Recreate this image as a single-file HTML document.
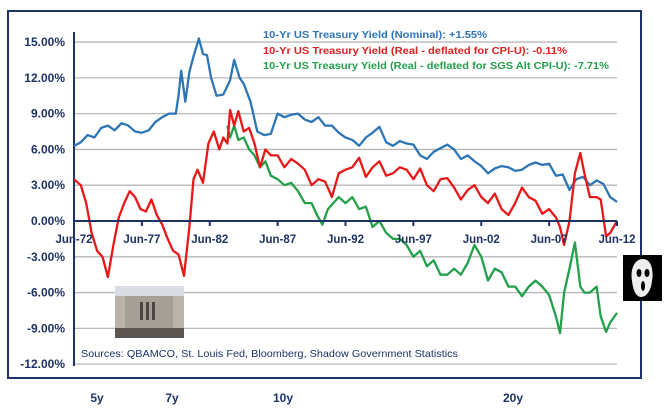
<!DOCTYPE html>
<html><head><meta charset="utf-8"><style>
body{margin:0;background:#fff;width:670px;height:411px;overflow:hidden}
svg{display:block;font-family:"Liberation Sans",sans-serif}
</style></head><body>
<svg width="670" height="411">
<rect x="8" y="11" width="633" height="367" fill="#fff" stroke="#1f3268" stroke-width="2"/>
<g id="grid"></g>
<g id="ylabels" font-size="12" font-weight="bold" fill="#1f3268" text-anchor="end"></g>
<line x1="74" y1="32" x2="74" y2="366" stroke="#1f3268" stroke-width="2"/>
<g id="series"></g>
<line x1="74" y1="221" x2="617" y2="221" stroke="#1f3268" stroke-width="2"/>
<g id="xlabels" font-size="11.5" font-weight="bold" fill="#1f3268" text-anchor="middle"></g>
<g font-size="10.5" font-weight="bold">
<text x="263" y="38" fill="#2e75b6" textLength="224" lengthAdjust="spacingAndGlyphs">10-Yr US Treasury Yield (Nominal): +1.55%</text>
<text x="263" y="54" fill="#e02020" textLength="304" lengthAdjust="spacingAndGlyphs">10-Yr US Treasury Yield (Real - deflated for CPI-U): -0.11%</text>
<text x="263" y="69" fill="#22a04a" textLength="346" lengthAdjust="spacingAndGlyphs">10-Yr US Treasury Yield (Real - deflated for SGS Alt CPI-U): -7.71%</text>
</g>
<g>
<rect x="115" y="286" width="69" height="52" fill="#b9b3ab"/>
<rect x="115" y="286" width="69" height="10" fill="#d9dde3"/>
<rect x="125" y="296" width="48" height="32" fill="#a69f95"/>
<rect x="140" y="302" width="3" height="18" fill="#4a4540"/><rect x="146" y="302" width="3" height="18" fill="#4a4540"/><rect x="152" y="302" width="3" height="18" fill="#4a4540"/>
<rect x="115" y="328" width="69" height="10" fill="#5a5550"/>
</g>
<text x="81" y="357" font-size="10.5" fill="#1f3268" textLength="377" lengthAdjust="spacingAndGlyphs">Sources: QBAMCO, St. Louis Fed, Bloomberg, Shadow Government Statistics</text>
<g>
<rect x="623" y="255" width="39" height="46" fill="#000"/>
<path d="M643 259 C634 259 630 270 632 281 C633 290 636 297 641 297 C647 297 651 290 652 281 C654 270 651 259 643 259Z" fill="#eee"/>
<ellipse cx="639" cy="273" rx="2.5" ry="4" fill="#000"/><ellipse cx="647" cy="273" rx="2.5" ry="4" fill="#000"/><ellipse cx="643" cy="286" rx="2" ry="5" fill="#000"/>
</g>
<g font-size="12" font-weight="bold" fill="#1f3268" text-anchor="middle">
<text x="97" y="402">5y</text><text x="172" y="402">7y</text><text x="283" y="402">10y</text><text x="513" y="402">20y</text>
</g>
</svg>
<script>
const yTicks=[15,12,9,6,3,0,-3,-6,-9,-12];
const yTickLabels=["15.00%","12.00%","9.00%","6.00%","3.00%","0.00%","-3.00%","-6.00%","-9.00%","-12.00%"];
const xTicks=[1972.5,1977.5,1982.5,1987.5,1992.5,1997.5,2002.5,2007.5,2012.5];
const xTickLabels=["Jun-72","Jun-77","Jun-82","Jun-87","Jun-92","Jun-97","Jun-02","Jun-07","Jun-12"];
const nomYears=[1972.5,1973,1973.5,1974,1974.5,1975,1975.5,1976,1976.5,1977,1977.5,1978,1978.5,1979,1979.5,1980,1980.2,1980.4,1980.7,1981,1981.3,1981.7,1982,1982.3,1982.6,1983,1983.5,1984,1984.3,1984.7,1985,1985.5,1986,1986.5,1987,1987.5,1988,1988.5,1989,1989.5,1990,1990.5,1991,1991.5,1992,1992.5,1993,1993.5,1994,1994.5,1995,1995.5,1996,1996.5,1997,1997.5,1998,1998.5,1999,1999.5,2000,2000.5,2001,2001.5,2002,2002.5,2003,2003.5,2004,2004.5,2005,2005.5,2006,2006.5,2007,2007.5,2008,2008.5,2009,2009.5,2010,2010.5,2011,2011.5,2012,2012.5];
const nomValues=[6.3,6.6,7.2,7.0,7.8,8.0,7.6,8.2,8.0,7.5,7.4,7.6,8.3,8.7,9.0,9.0,10.5,12.6,10.0,12.5,13.8,15.3,14.0,13.9,12.0,10.5,10.6,11.8,13.5,12.0,11.5,10.0,7.5,7.2,7.3,9.0,8.7,8.9,9.0,8.5,8.3,8.7,8.0,8.0,7.4,7.0,6.8,6.3,7.0,7.4,7.9,6.6,6.3,6.7,6.5,6.4,5.5,5.2,5.8,6.1,6.4,6.0,5.2,5.5,5.0,4.6,4.0,4.4,4.6,4.5,4.2,4.3,4.7,4.9,4.7,4.8,3.8,3.9,2.6,3.5,3.7,3.0,3.4,3.1,2.0,1.6];
const cpiYears=[1972.5,1973,1973.4,1973.8,1974.2,1974.6,1975,1975.4,1975.8,1976.2,1976.6,1977,1977.4,1977.8,1978.2,1978.6,1979,1979.4,1979.8,1980.2,1980.6,1981,1981.3,1981.6,1982,1982.4,1982.8,1983.2,1983.5,1983.8,1984,1984.3,1984.6,1985,1985.4,1985.8,1986.2,1986.6,1987,1987.5,1988,1988.5,1989,1989.5,1990,1990.5,1991,1991.5,1992,1992.5,1993,1993.5,1994,1994.5,1995,1995.5,1996,1996.5,1997,1997.5,1998,1998.5,1999,1999.5,2000,2000.5,2001,2001.5,2002,2002.5,2003,2003.5,2004,2004.5,2005,2005.5,2006,2006.5,2007,2007.5,2008,2008.3,2008.6,2009,2009.4,2009.8,2010.1,2010.5,2011,2011.3,2011.7,2012,2012.5];
const cpiValues=[3.5,3.0,1.5,-1.0,-2.5,-3.0,-4.7,-2.0,0.3,1.5,2.5,2.0,1.0,0.8,1.8,0.5,-0.3,-1.5,-2.5,-2.8,-4.6,-0.5,3.5,4.3,3.2,6.5,7.5,6.0,7.0,6.5,9.3,8.0,9.2,7.5,7.8,6.5,4.5,6.0,5.5,5.5,4.5,5.2,4.8,4.3,3.0,3.5,3.3,2.0,4.0,4.3,4.5,5.3,3.7,4.5,5.0,3.8,4.0,4.5,4.3,3.5,4.4,3.0,2.5,3.5,3.6,2.8,1.8,2.6,3.0,2.0,1.5,2.3,1.0,0.5,1.5,2.8,2.0,1.7,0.6,1.0,0.3,-0.5,-2.0,0.0,4.0,5.7,4.0,2.0,2.0,1.8,-1.3,-1.0,0.0];
const sgsYears=[1983.8,1984,1984.3,1984.6,1985,1985.4,1985.8,1986.2,1986.6,1987,1987.5,1988,1988.5,1989,1989.5,1990,1990.4,1990.8,1991.2,1991.6,1992,1992.5,1993,1993.5,1994,1994.5,1995,1995.5,1996,1996.5,1997,1997.5,1998,1998.5,1999,1999.5,2000,2000.5,2001,2001.5,2002,2002.5,2003,2003.5,2004,2004.5,2005,2005.5,2006,2006.5,2007,2007.5,2008,2008.3,2008.6,2009,2009.4,2009.8,2010.1,2010.5,2011,2011.3,2011.7,2012,2012.5];
const sgsValues=[8.0,7.0,8.0,6.8,7.0,6.0,5.5,4.5,5.0,3.8,3.5,3.0,3.2,2.5,1.5,1.5,0.5,-0.3,1.0,1.5,2.0,1.5,2.0,1.0,1.2,-0.5,0.0,-1.0,-1.5,-1.5,-2.0,-3.0,-2.5,-3.8,-3.3,-4.5,-4.5,-4.0,-4.5,-3.5,-2.0,-3.0,-5.0,-4.0,-4.3,-5.5,-5.5,-6.3,-5.5,-5.0,-5.5,-6.2,-8.0,-9.4,-6.0,-4.0,-1.8,-5.5,-6.0,-6.0,-5.5,-8.0,-9.3,-8.5,-7.7];
const NS="http://www.w3.org/2000/svg";
const X0=74,X1=617,Y0=221,PX=11.93;
function xS(v){return X0+(v-1972.5)*(X1-X0)/40;}
function yS(v){return Y0-v*PX;}
const grid=document.getElementById('grid'),yl=document.getElementById('ylabels'),xl=document.getElementById('xlabels'),ser=document.getElementById('series');
yTicks.forEach((t,i)=>{
  if(t!==0){const l=document.createElementNS(NS,'line');
  l.setAttribute('x1',X0);l.setAttribute('x2',X1);l.setAttribute('y1',yS(t));l.setAttribute('y2',yS(t));
  l.setAttribute('stroke','#b8b8b8');l.setAttribute('stroke-width','1.3');
  
  
  grid.appendChild(l);}
  const tx=document.createElementNS(NS,'text');
  tx.setAttribute('x',65);tx.setAttribute('y',yS(t)+4);tx.textContent=yTickLabels[i];
  
  
  yl.appendChild(tx);
});
xTicks.forEach((t,i)=>{
  const l=document.createElementNS(NS,'line');
  l.setAttribute('x1',xS(t));l.setAttribute('x2',xS(t));l.setAttribute('y1',Y0);l.setAttribute('y2',Y0+5);
  l.setAttribute('stroke','#1f3268');l.setAttribute('stroke-width','2');
  
  
  xl.appendChild(l);
  const tx=document.createElementNS(NS,'text');
  tx.setAttribute('x',xS(t));tx.setAttribute('y',Y0+22);tx.textContent=xTickLabels[i];
  
  
  xl.appendChild(tx);
});
function line(xs,vs,col,name){
  const p=document.createElementNS(NS,'polyline');
  p.setAttribute('points',xs.map((x,i)=>xS(x).toFixed(1)+','+yS(vs[i]).toFixed(1)).join(' '));
  p.setAttribute('fill','none');p.setAttribute('stroke',col);p.setAttribute('stroke-width','2.3');p.setAttribute('stroke-linejoin','round');
  
  
  ser.appendChild(p);
}
line(nomYears,nomValues,'#2e75b6','nominal-yield-line');
line(sgsYears,sgsValues,'#22a04a','sgs-real-yield-line');
line(cpiYears,cpiValues,'#e81818','cpi-real-yield-line');
</script>
</body></html>
